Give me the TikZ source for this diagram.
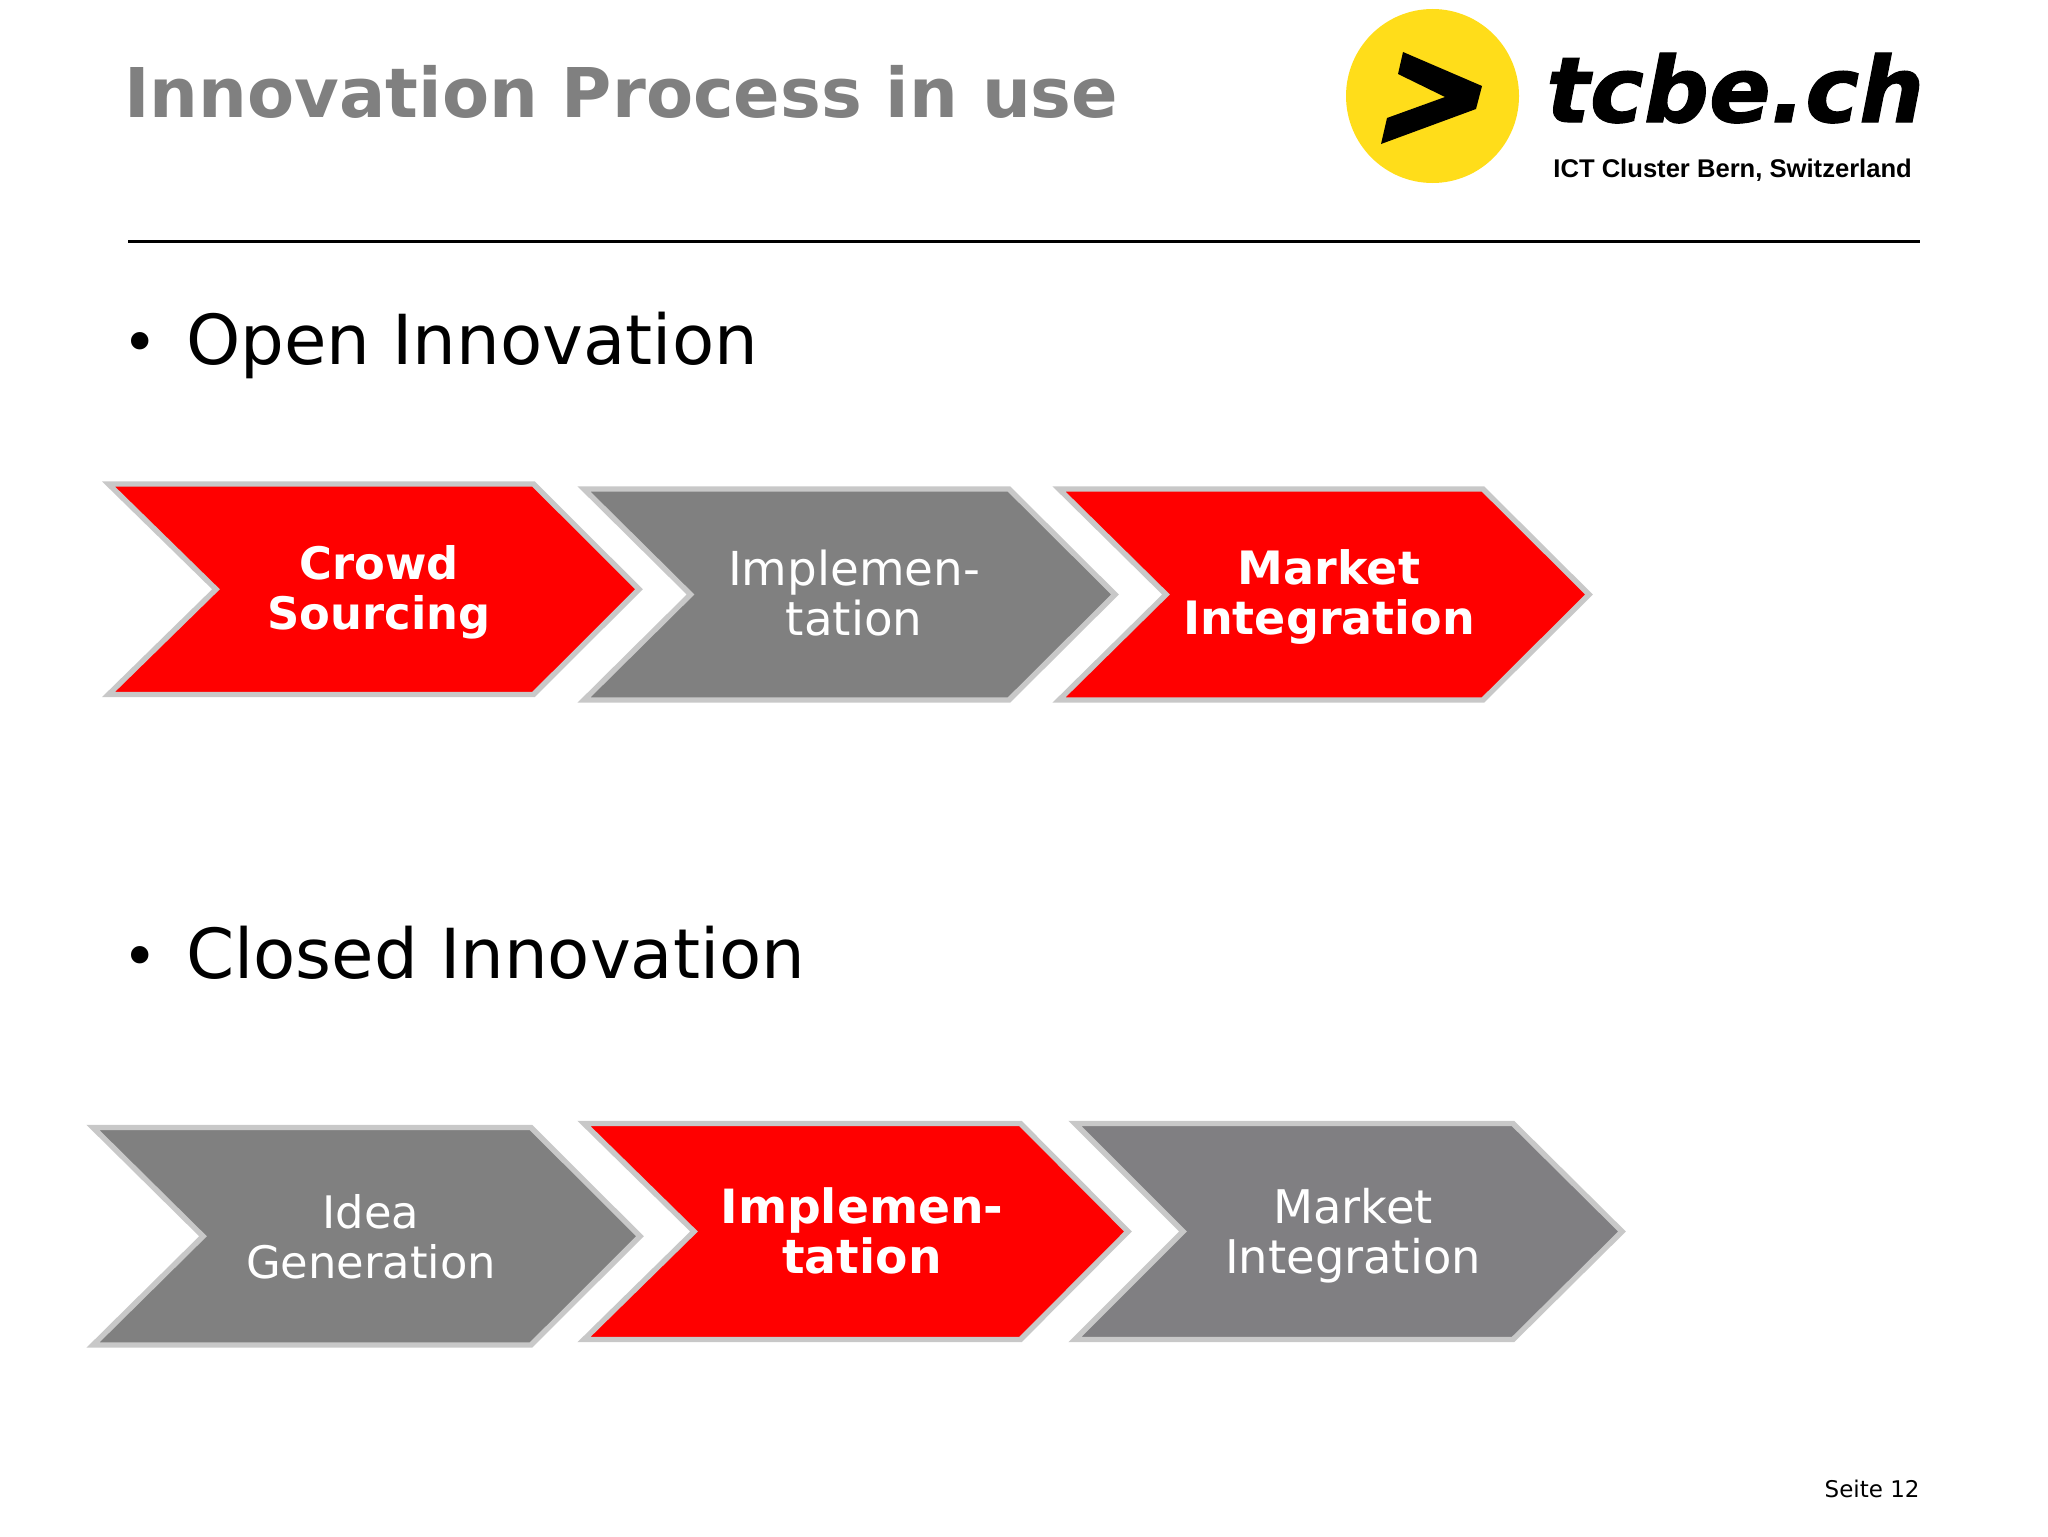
\documentclass[tikz,border=0pt]{standalone}
\usepackage{fontspec}
\setmainfont{DejaVu Sans}
\newfontfamily\subfont{Liberation Sans}
\definecolor{chevred}{HTML}{FF0000}
\definecolor{chevgrey}{HTML}{808080}
\definecolor{chevgreyb}{HTML}{807F82}
\definecolor{chevline}{HTML}{C8C8C8}
\definecolor{logoyellow}{HTML}{FFDD1A}
\definecolor{titlegrey}{HTML}{808080}
% fill, left, notch, top-right, tip, top, bottom (outer extents, px)
\newcommand{\chevshape}[7]{%
  \pgfmathsetmacro{\chL}{#2+4}\pgfmathsetmacro{\chN}{#3-3}
  \pgfmathsetmacro{\chR}{#4-2}\pgfmathsetmacro{\chP}{#5}
  \pgfmathsetmacro{\chT}{#6+3}\pgfmathsetmacro{\chB}{#7-3}
  \pgfmathsetmacro{\chM}{(#6+#7)/2}
  \draw[chevbox,fill=#1] (\chL,\chT) -- (\chR,\chT) -- (\chP,\chM) -- (\chR,\chB) -- (\chL,\chB) -- (\chN,\chM) -- cycle;
}
\tikzset{
  chevbox/.style={draw=chevline,line width=2.7pt,miter limit=10,line join=miter},
  chevplain/.style={text=white,font=\fontsize{#1}{25}\selectfont,align=center,inner sep=0pt},
  chevbold/.style={text=white,font=\fontsize{#1}{25}\selectfont\bfseries,align=center,inner sep=0pt},
  bullettext/.style={anchor=base west,inner sep=0pt,font=\fontsize{34.5}{40}\selectfont},
  bulletdot/.style={anchor=base west,inner sep=0pt,font=\fontsize{30}{34}\selectfont},
}
\begin{document}
\begin{tikzpicture}[x=0.5pt,y=-0.5pt]
\useasboundingbox (0,0) rectangle (2048,1536);
% header
\node[anchor=base west,inner sep=0pt,text=titlegrey,font=\fontsize{34.3}{40}\selectfont\bfseries] (title) at (124,118) {Innovation Process in use};
\coordinate (ruleL) at (128,241.5);
\coordinate (ruleR) at (1920,241.5);
\draw[line width=1.3pt] (ruleL) -- (ruleR);
% logo
\fill[logoyellow] (1432.5,96) ellipse [x radius=86.5,y radius=87];
\fill[black] (1403,52) -- (1482,86) -- (1476,109) -- (1381,144) -- (1387,118) -- (1445,97) -- (1398,74) -- cycle;
\node[anchor=base west,inner sep=0pt,font=\fontsize{45.5}{50}\selectfont\bfseries\itshape\addfontfeature{FakeBold=1.2}] (logotext) at (1546,122) {tcbe.ch};
\node[anchor=base west,inner sep=0pt,font=\fontsize{12.8}{14}\selectfont\subfont\bfseries] (logosub) at (1553,177) {ICT Cluster Bern, Switzerland};
% bullets
\node[bulletdot] (b1) at (122,363) {•};
\node[bullettext] (t1) at (186,364.5) {Open Innovation};
\node[bulletdot] (b2) at (122,977) {•};
\node[bullettext] (t2) at (186,978.5) {Closed Innovation};
% row 1
\chevshape{chevred}{104.5}{219}{535.5}{639}{481}{697.5}
\chevshape{chevgrey}{580}{693.5}{1011}{1115}{486}{703}
\chevshape{chevred}{1055}{1169}{1485}{1589}{486}{703}
\node[chevbold=22.4] (c1) at (379,592.5) {Crowd\\Sourcing};
\node[chevplain=23.4] (c2) at (854,593) {Implemen-\\tation};
\node[chevbold=23] (c3) at (1329,597) {Market\\Integration};
% row 2
\chevshape{chevgrey}{89}{206}{533}{640}{1124.5}{1348}
\chevshape{chevred}{580}{697}{1022.5}{1128}{1120.5}{1342.5}
\chevshape{chevgreyb}{1071}{1186}{1515}{1622}{1120.5}{1342.5}
\node[chevplain=22.4] (d1) at (371,1237) {Idea\\Generation};
\node[chevbold=23.6] (d2) at (862,1231) {Implemen-\\tation};
\node[chevplain=23.2] (d3) at (1353,1235.5) {Market\\Integration};
% footer
\node[anchor=base east,inner sep=0pt,font=\fontsize{11.5}{14}\selectfont] (page) at (1920,1497) {Seite 12};
\end{tikzpicture}
\end{document}
